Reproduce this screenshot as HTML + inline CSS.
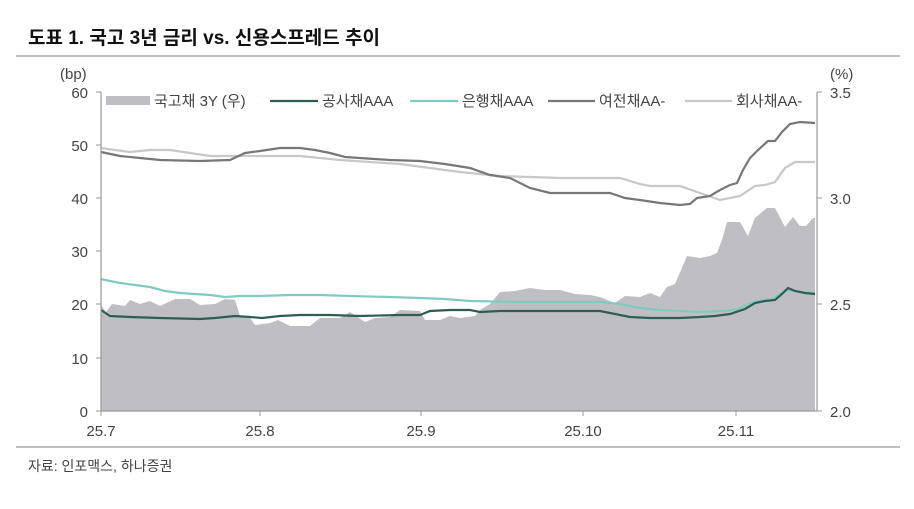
<!DOCTYPE html><html><head><meta charset="utf-8"><style>
body{margin:0;background:#fff;width:914px;height:504px;overflow:hidden}
text{font-family:"Liberation Sans","Noto Sans CJK KR",sans-serif;fill:#444}
</style></head><body>
<svg width="914" height="504" xmlns="http://www.w3.org/2000/svg">
<text x="28" y="44" font-size="19" font-weight="bold" fill="#111" style="fill:#111">도표 1. 국고 3년 금리 vs. 신용스프레드 추이</text>
<line x1="16" y1="56" x2="900" y2="56" stroke="#aaa" stroke-width="1.5"/>
<line x1="16" y1="447" x2="900" y2="447" stroke="#aaa" stroke-width="1.5"/>
<text x="28" y="471" font-size="14">자료: 인포맥스, 하나증권</text>
<path d="M101,411 L101,305 L106,312 L112,304 L125,306 L130,300 L140,304 L150,301 L160,306 L175,299 L190,299 L200,305 L215,304 L225,299 L235,300 L240,316 L250,318 L255,325 L270,323 L278,320 L290,326 L310,326 L320,318 L340,318 L350,312 L365,322 L375,318 L390,317 L400,310 L420,311 L425,320 L440,320 L450,316 L460,318 L475,316 L480,310 L490,304 L500,292 L515,291 L530,288 L545,290 L560,290 L575,294 L590,295 L600,297 L615,303 L625,296 L640,297 L650,293 L660,297 L667,287 L675,284 L687,256 L700,258 L710,256 L717,253 L722,240 L727,222 L740,222 L748,236 L755,218 L767,208 L775,208 L785,227 L793,217 L800,226 L806,226 L813,218 L815,218 L815,411 Z" fill="#bfbfc3"/>
<polyline fill="none" stroke="#c8c8c8" stroke-width="2.2" points="101,148 115,150 130,152 150,150 170,150 190,153 210,156 240,156 300,156 340,160 400,164 430,168 460,172 500,176 560,178 620,178 640,184 650,186 680,186 700,193 720,200 740,196 755,186 765,185 775,182 785,168 795,162 815,162"/>
<polyline fill="none" stroke="#777" stroke-width="2.2" points="101,152 120,156 140,158 160,160 200,161 230,160 245,153 260,151 280,148 300,148 315,150 330,153 345,157 360,158 390,160 420,161 445,164 470,168 490,175 510,178 530,188 550,193 610,193 625,198 640,200 660,203 680,205 690,204 697,198 710,196 720,190 730,185 737,183 743,170 750,158 758,150 768,141 775,141 782,132 790,124 800,122 815,123"/>
<polyline fill="none" stroke="#7fcbbf" stroke-width="2.2" points="101,279 110,281 120,283 135,285 150,287 165,291 180,293 195,294 210,295 225,297 240,296 260,296 290,295 320,295 350,296 390,297 420,298 445,299 470,301 520,302 600,302 620,304 640,308 660,310 700,312 725,311 738,309 748,304 758,301 772,299 780,294 788,290 800,292 815,293"/>
<polyline fill="none" stroke="#2f5d55" stroke-width="2.2" points="101,310 110,316 130,317 160,318 200,319 215,318 235,316 250,317 262,318 280,316 300,315 330,315 360,316 400,315 420,315 430,311 450,310 470,310 480,312 500,311 520,311 600,311 615,314 630,317 650,318 680,318 700,317 715,316 730,314 745,309 755,303 765,301 775,300 782,294 788,288 795,291 805,293 815,294"/>
<line x1="101" y1="92" x2="101" y2="411" stroke="#999" stroke-width="1.2"/>
<line x1="817" y1="92" x2="817" y2="411" stroke="#999" stroke-width="1.2"/>
<line x1="101" y1="411" x2="817" y2="411" stroke="#999" stroke-width="1.2"/>
<g stroke="#999"><line x1="96" y1="92" x2="101" y2="92"/><line x1="96" y1="145" x2="101" y2="145"/><line x1="96" y1="198" x2="101" y2="198"/><line x1="96" y1="251" x2="101" y2="251"/><line x1="96" y1="304" x2="101" y2="304"/><line x1="96" y1="358" x2="101" y2="358"/><line x1="96" y1="411" x2="101" y2="411"/>
<line x1="817" y1="92" x2="822" y2="92"/><line x1="817" y1="198" x2="822" y2="198"/><line x1="817" y1="304" x2="822" y2="304"/><line x1="817" y1="411" x2="822" y2="411"/>
<line x1="101" y1="411" x2="101" y2="416"/><line x1="260" y1="411" x2="260" y2="416"/><line x1="421" y1="411" x2="421" y2="416"/><line x1="583" y1="411" x2="583" y2="416"/><line x1="736" y1="411" x2="736" y2="416"/></g>
<g font-size="15" text-anchor="end"><text x="88" y="98">60</text><text x="88" y="151">50</text><text x="88" y="204">40</text><text x="88" y="257">30</text><text x="88" y="310">20</text><text x="88" y="364">10</text><text x="88" y="417">0</text></g>
<text x="60" y="79" font-size="15">(bp)</text>
<text x="830" y="79" font-size="15">(%)</text>
<g font-size="15"><text x="830" y="98">3.5</text><text x="830" y="204">3.0</text><text x="830" y="310">2.5</text><text x="830" y="417">2.0</text></g>
<g font-size="15" text-anchor="middle"><text x="101" y="436">25.7</text><text x="260" y="436">25.8</text><text x="421" y="436">25.9</text><text x="583" y="436">25.10</text><text x="736" y="436">25.11</text></g>
<rect x="106" y="96" width="44" height="9" fill="#bfbfc3"/>
<text x="154" y="106" font-size="15">국고채 3Y (우)</text>
<line x1="270" y1="101" x2="318" y2="101" stroke="#2f5d55" stroke-width="2.2"/>
<text x="322" y="106" font-size="15">공사채AAA</text>
<line x1="410" y1="101" x2="458" y2="101" stroke="#7fcbbf" stroke-width="2.2"/>
<text x="462" y="106" font-size="15">은행채AAA</text>
<line x1="548" y1="101" x2="595" y2="101" stroke="#777" stroke-width="2.2"/>
<text x="599" y="106" font-size="15">여전채AA-</text>
<line x1="685" y1="101" x2="732" y2="101" stroke="#c8c8c8" stroke-width="2.2"/>
<text x="736" y="106" font-size="15">회사채AA-</text>
</svg></body></html>
